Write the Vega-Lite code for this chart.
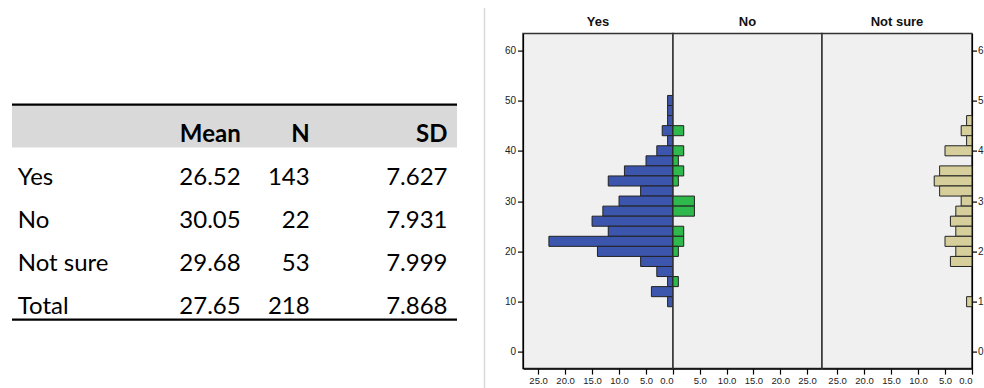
{
  "$schema": "https://vega.github.io/schema/vega-lite/v6.json",
  "padding": {"left": 10, "top": 14.6, "right": 0, "bottom": 0},
  "background": "white",
  "datasets": {
    "hist": [
      {"g": "Yes", "lo": 49, "hi": 51, "n": 1},
      {"g": "Yes", "lo": 47, "hi": 49, "n": 1},
      {"g": "Yes", "lo": 45, "hi": 47, "n": 1},
      {"g": "Yes", "lo": 43, "hi": 45, "n": 2},
      {"g": "Yes", "lo": 41, "hi": 43, "n": 1},
      {"g": "Yes", "lo": 39, "hi": 41, "n": 3},
      {"g": "Yes", "lo": 37, "hi": 39, "n": 5},
      {"g": "Yes", "lo": 35, "hi": 37, "n": 9},
      {"g": "Yes", "lo": 33, "hi": 35, "n": 12},
      {"g": "Yes", "lo": 31, "hi": 33, "n": 6},
      {"g": "Yes", "lo": 29, "hi": 31, "n": 10},
      {"g": "Yes", "lo": 27, "hi": 29, "n": 13},
      {"g": "Yes", "lo": 25, "hi": 27, "n": 15},
      {"g": "Yes", "lo": 23, "hi": 25, "n": 12},
      {"g": "Yes", "lo": 21, "hi": 23, "n": 23},
      {"g": "Yes", "lo": 19, "hi": 21, "n": 14},
      {"g": "Yes", "lo": 17, "hi": 19, "n": 6},
      {"g": "Yes", "lo": 15, "hi": 17, "n": 3},
      {"g": "Yes", "lo": 13, "hi": 15, "n": 1},
      {"g": "Yes", "lo": 11, "hi": 13, "n": 4},
      {"g": "Yes", "lo": 9, "hi": 11, "n": 1},
      {"g": "No", "lo": 43, "hi": 45, "n": 2},
      {"g": "No", "lo": 39, "hi": 41, "n": 2},
      {"g": "No", "lo": 37, "hi": 39, "n": 1},
      {"g": "No", "lo": 35, "hi": 37, "n": 2},
      {"g": "No", "lo": 33, "hi": 35, "n": 1},
      {"g": "No", "lo": 29, "hi": 31, "n": 4},
      {"g": "No", "lo": 27, "hi": 29, "n": 4},
      {"g": "No", "lo": 23, "hi": 25, "n": 2},
      {"g": "No", "lo": 21, "hi": 23, "n": 2},
      {"g": "No", "lo": 19, "hi": 21, "n": 1},
      {"g": "No", "lo": 13, "hi": 15, "n": 1},
      {"g": "Not sure", "lo": 45, "hi": 47, "n": 1},
      {"g": "Not sure", "lo": 43, "hi": 45, "n": 2},
      {"g": "Not sure", "lo": 41, "hi": 43, "n": 1},
      {"g": "Not sure", "lo": 39, "hi": 41, "n": 5},
      {"g": "Not sure", "lo": 35, "hi": 37, "n": 6},
      {"g": "Not sure", "lo": 33, "hi": 35, "n": 7},
      {"g": "Not sure", "lo": 31, "hi": 33, "n": 6},
      {"g": "Not sure", "lo": 29, "hi": 31, "n": 2},
      {"g": "Not sure", "lo": 27, "hi": 29, "n": 3},
      {"g": "Not sure", "lo": 25, "hi": 27, "n": 4},
      {"g": "Not sure", "lo": 23, "hi": 25, "n": 3},
      {"g": "Not sure", "lo": 21, "hi": 23, "n": 5},
      {"g": "Not sure", "lo": 19, "hi": 21, "n": 3},
      {"g": "Not sure", "lo": 17, "hi": 19, "n": 4},
      {"g": "Not sure", "lo": 9, "hi": 11, "n": 1}
    ],
    "table": [
      {"row": "header", "col": "Mean", "text": "Mean"},
      {"row": "header", "col": "N", "text": "N"},
      {"row": "header", "col": "SD", "text": "SD"},
      {"row": "Yes", "col": "label", "text": "Yes"},
      {"row": "Yes", "col": "Mean", "text": "26.52"},
      {"row": "Yes", "col": "N", "text": "143"},
      {"row": "Yes", "col": "SD", "text": "7.627"},
      {"row": "No", "col": "label", "text": "No"},
      {"row": "No", "col": "Mean", "text": "30.05"},
      {"row": "No", "col": "N", "text": "22"},
      {"row": "No", "col": "SD", "text": "7.931"},
      {"row": "Not sure", "col": "label", "text": "Not sure"},
      {"row": "Not sure", "col": "Mean", "text": "29.68"},
      {"row": "Not sure", "col": "N", "text": "53"},
      {"row": "Not sure", "col": "SD", "text": "7.999"},
      {"row": "Total", "col": "label", "text": "Total"},
      {"row": "Total", "col": "Mean", "text": "27.65"},
      {"row": "Total", "col": "N", "text": "218"},
      {"row": "Total", "col": "SD", "text": "7.868"}
    ]
  },
  "bounds": "flush",
  "spacing": 66,
  "hconcat": [
    {
      "width": 445,
      "height": 335,
      "data": {"name": "table"},
      "layer": [
        {
          "transform": [{"filter": "datum.row === 'header' && datum.col === 'Mean'"}],
          "mark": {"type": "rect", "fill": "#d9d9d9"},
          "encoding": {
            "y": {
              "field": "row", "type": "nominal",
              "scale": {"type": "band", "domain": ["_top", "header", "Yes", "No", "Not sure", "Total", "_bottom"], "range": [-26, 355], "paddingInner": 0, "paddingOuter": 0.93, "align": 0.675},
              "axis": {"orient": "right", "offset": 27, "domainColor": "#dadada", "domainWidth": 1.5, "ticks": false, "labels": false, "title": null, "grid": false}
            }
          }
        },
        {
          "transform": [{"filter": "datum.row === 'header' && datum.col === 'Mean'"}],
          "mark": {"type": "rule", "color": "black", "strokeWidth": 2.3},
          "encoding": {"y": {"field": "row", "type": "nominal", "bandPosition": 0}}
        },
        {
          "transform": [{"filter": "datum.row === 'Total' && datum.col === 'label'"}],
          "mark": {"type": "rule", "color": "black", "strokeWidth": 2.3},
          "encoding": {"y": {"field": "row", "type": "nominal", "bandPosition": 1}}
        },
        {
          "transform": [{"filter": "datum.row === 'header'"}],
          "mark": {"type": "text", "font": "Lato", "fontSize": 24, "fontWeight": "bold", "align": "right", "baseline": "alphabetic", "color": "black"},
          "encoding": {
            "x": {"field": "col", "type": "nominal", "scale": {"type": "point", "domain": ["_a", "_b", "Mean", "N", "_c", "SD"], "padding": 0.728, "align": 0.905}, "axis": null},
            "y": {"field": "row", "type": "nominal", "bandPosition": 0.86},
            "text": {"field": "text"}
          }
        },
        {
          "transform": [{"filter": "datum.row !== 'header' && datum.col !== 'label'"}],
          "mark": {"type": "text", "font": "Lato", "fontSize": 24, "align": "right", "baseline": "alphabetic", "color": "black"},
          "encoding": {
            "x": {"field": "col", "type": "nominal", "scale": {"type": "point", "domain": ["_a", "_b", "Mean", "N", "_c", "SD"], "padding": 0.728, "align": 0.905}, "axis": null},
            "y": {"field": "row", "type": "nominal", "bandPosition": 0.86},
            "text": {"field": "text"}
          }
        },
        {
          "transform": [{"filter": "datum.col === 'label'"}],
          "mark": {"type": "text", "font": "Lato", "fontSize": 24, "align": "left", "baseline": "alphabetic", "color": "black"},
          "encoding": {
            "x": {"field": "col", "type": "nominal", "scale": {"type": "point", "domain": ["label"], "padding": 0, "align": 0.013}, "axis": null},
            "y": {"field": "row", "type": "nominal", "bandPosition": 0.86},
            "text": {"field": "text"}
          }
        }
      ],
      "resolve": {"scale": {"x": "independent"}}
    },
    {
      "bounds": "flush",
      "spacing": 0,
      "hconcat": [
        {
          "width": 150,
          "height": 335,
          "view": {"fill": "#f0f0f0", "stroke": "#333333", "strokeWidth": 1.5},
          "title": {"text": "Yes", "font": "Liberation Sans", "fontSize": 13, "fontWeight": "bold", "offset": -5, "baseline": "alphabetic", "anchor": "middle", "color": "#111111"},
          "data": {"name": "hist"},
          "transform": [{"filter": "datum.g === 'Yes'"}],
          "mark": {"type": "rect", "fill": "#3d56ad", "stroke": "#222222", "strokeWidth": 1},
          "encoding": {
            "y": {"field": "lo", "type": "quantitative", "scale": {"domain": [-3.3, 63.3], "nice": false, "zero": false},
              "axis": {"orient": "left", "values": [0, 10, 20, 30, 40, 50, 60], "grid": false, "title": null, "tickSize": 5.5, "labelPadding": 2, "labelFontSize": 10, "domainColor": "black", "tickColor": "black"}},
            "y2": {"field": "hi"},
            "x": {"field": "n", "type": "quantitative", "scale": {"domain": [0, 27.8], "reverse": true, "nice": false, "zero": false},
              "axis": {"values": [0, 5, 10, 15, 20, 25], "format": ".1f", "grid": false, "title": null, "tickSize": 5.5, "labelPadding": 1.5, "labelFontSize": 9.5, "domainColor": "black", "tickColor": "black"}},
            "x2": {"datum": 0}
          }
        },
        {
          "width": 149,
          "height": 335,
          "view": {"fill": "#f0f0f0", "stroke": "#333333", "strokeWidth": 1.5},
          "title": {"text": "No", "font": "Liberation Sans", "fontSize": 13, "fontWeight": "bold", "offset": -5, "baseline": "alphabetic", "anchor": "middle", "color": "#111111"},
          "data": {"name": "hist"},
          "transform": [{"filter": "datum.g === 'No'"}],
          "mark": {"type": "rect", "fill": "#2fb84b", "stroke": "#222222", "strokeWidth": 1},
          "encoding": {
            "y": {"field": "lo", "type": "quantitative", "scale": {"domain": [-3.3, 63.3], "nice": false, "zero": false}, "axis": null},
            "y2": {"field": "hi"},
            "x": {"field": "n", "type": "quantitative", "scale": {"domain": [0, 27.8], "nice": false, "zero": false},
              "axis": {"values": [5, 10, 15, 20, 25], "format": ".1f", "grid": false, "title": null, "tickSize": 5.5, "labelPadding": 1.5, "labelFontSize": 9.5, "domainColor": "black", "tickColor": "black"}},
            "x2": {"datum": 0}
          }
        },
        {
          "width": 150,
          "height": 335,
          "view": {"fill": "#f0f0f0", "stroke": "#333333", "strokeWidth": 1.5},
          "title": {"text": "Not sure", "font": "Liberation Sans", "fontSize": 13, "fontWeight": "bold", "offset": -5, "baseline": "alphabetic", "anchor": "middle", "color": "#111111"},
          "data": {"name": "hist"},
          "transform": [{"filter": "datum.g === 'Not sure'"}],
          "mark": {"type": "rect", "fill": "#d6cf9c", "stroke": "#222222", "strokeWidth": 1},
          "encoding": {
            "y": {"field": "lo", "type": "quantitative", "scale": {"domain": [-3.3, 63.3], "nice": false, "zero": false},
              "axis": {"orient": "right", "values": [0, 10, 20, 30, 40, 50, 60], "labelExpr": "slice(datum.label, 0, 1)", "grid": false, "title": null, "tickSize": 4.5, "labelPadding": 1, "labelFontSize": 10, "domainColor": "black", "tickColor": "black"}},
            "y2": {"field": "hi"},
            "x": {"field": "n", "type": "quantitative", "scale": {"domain": [0, 27.8], "reverse": true, "nice": false, "zero": false},
              "axis": {"values": [0, 5, 10, 15, 20, 25], "format": ".1f", "grid": false, "title": null, "tickSize": 5.5, "labelPadding": 1.5, "labelFontSize": 9.5, "domainColor": "black", "tickColor": "black"}},
            "x2": {"datum": 0}
          }
        }
      ]
    }
  ],
  "config": {
    "view": {"stroke": null},
    "axis": {"labelFont": "Liberation Sans", "labelColor": "#222222", "domainWidth": 1.2, "tickWidth": 1.2}
  }
}
